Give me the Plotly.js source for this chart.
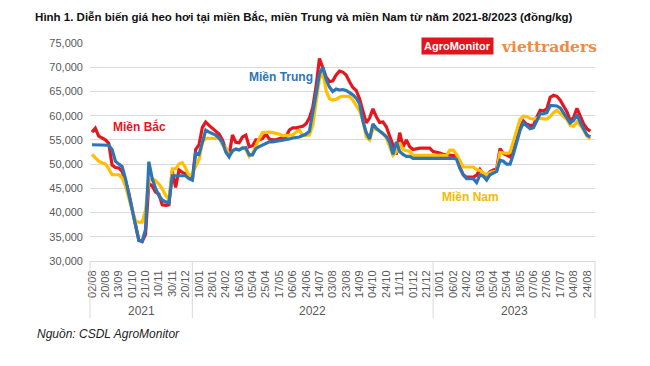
<!DOCTYPE html>
<html><head><meta charset="utf-8">
<script src="https://cdn.plot.ly/plotly-3.0.1.min.js"></script>
<style>html,body{margin:0;padding:0;background:#fff;}#chart{width:650px;height:366px;}</style>
</head><body><div id="chart"></div>
<script>
// Tick labels (one every ~14 trading days)
const tickLabels = ['02/08','20/08','13/09','01/10','21/10','10/11','30/11','20/12',
  '10/01','28/01','24/02','16/03','05/04','25/04','17/05','06/06','24/06','14/07','03/08','23/08','14/09','04/10','24/10','11/11','01/12','21/12',
  '10/01','06/02','24/02','16/03','05/04','25/04','18/05','07/06','27/06','17/07','04/08','24/08'];
const years = ['2021','2022','2023'];
const yearStart = [0, 8, 26];
const seriesNames = ['Miền Bắc','Miền Trung','Miền Nam'];

// Prices (đồng/kg), four readings per tick-label interval
const mienBac = [
 56600,57400,55800,55400, 55000,54300,49800,49300, 49200,48500,46600,44000, 41000,37500,34300,34000,
 35500,46000,45500,44200, 43800,41600,41500,41600, 48600,45200,48800,48300, 48000,47400,46800,53000,
 54000,57600,58700,58000, 57400,56800,56200,55000, 53000,51900,56000,54500, 54400,55600,56000,53600,
 53800,55000,55000,55300, 56200,55200,55000,55000, 55200,55400,55700,57000, 57500,57500,57600,57800,
 58300,59500,61700,66000, 71800,70000,68000,67000, 67200,68400,69200,69000, 68400,67000,65800,65200,
 63500,61000,58500,59500, 61400,59800,58600,58700, 57700,55800,53900,52000, 56500,53600,55000,53600,
 53000,53200,53300,53300, 53300,53300,52600,52500, 52300,52000,51900,51800, 51800,51700,49400,47800,
 47300,47300,47300,47700, 48900,47900,47700,48400, 48800,49000,53200,52200, 51800,51500,52800,55200,
 57500,58900,58200,58000, 58000,59700,61100,61000, 61400,63800,64200,64000, 63200,62000,60800,59000,
 59600,61500,59800,58300, 57300,56800];
const mienTrung = [
 54000,54000,54000,54000, 54000,53900,53000,50600, 50000,49500,47000,43600, 41000,37500,34200,34100,
 36500,50500,47000,45000, 43500,42600,42200,42000, 47600,47600,47600,47600, 47600,47000,46700,52300,
 52000,54500,57000,56600, 56300,56000,55400,54500, 52500,51500,52800,53100, 52900,53300,53400,51900,
 51900,53200,53600,53900, 54200,54600,54600,54700, 54900,54900,55100,55200, 55400,55500,55600,55900,
 56200,56800,60400,64500, 68600,70000,67500,65900, 65000,65500,65300,65400, 65200,64800,64300,63600,
 62500,58900,56500,55200, 58300,57400,56800,56400, 55700,54500,52000,54600, 52600,52000,51600,51600,
 51200,51200,51200,51200, 51200,51200,51200,51200, 51200,51200,51200,51200, 51200,51000,49100,47800,
 47000,47000,47000,46200, 47800,47500,46700,47800, 48200,48500,50800,50600, 50000,50000,52100,54500,
 57000,58500,57800,57300, 57500,59000,60400,60400, 60600,62100,62100,62000, 61600,60500,59300,58500,
 59000,60200,58600,57200, 56000,55600];
const mienNam = [
 52000,51200,50600,50300, 50000,49000,47800,47800, 47800,47200,45500,43000, 40800,38200,38000,38000,
 40500,46500,47000,46600, 45900,44900,43600,42600, 49000,49000,50000,50300, 49200,47500,48000,49600,
 51000,54500,55300,55300, 55300,55300,55300,54000, 53500,51800,52500,53200, 53000,53400,53000,51600,
 52200,53900,55300,56500, 56600,56600,56500,56400, 56200,55900,55900,56000, 56000,56600,57000,55900,
 55900,56000,58000,63000, 67500,69000,65200,63500, 63200,63400,63800,64000, 64000,64000,63200,62200,
 61000,59000,55600,55000, 57200,57200,56800,56400, 55400,53500,51800,52500, 54400,53000,52800,52600,
 51800,51800,51800,51800, 51800,51800,51800,51800, 51800,51800,51800,52900, 52900,52000,50600,49400,
 49400,49400,49400,48900, 48700,48200,47800,48200, 48400,48600,52400,52300, 52200,52400,54800,57200,
 59300,59900,59800,59400, 59300,59500,59400,59300, 59300,59800,60600,61100, 60500,59800,59200,58000,
 57800,58700,58000,57000, 55800,55200];

const STEP = 0.25;           // readings per tick interval = 1/STEP
const X0 = -0.15, X1 = 37.6; // x-axis range (tick-interval units)
const xs = arr => arr.map((_, i) => i * STEP);

const RED = '#E5161E', BLUE = '#2E75B6', YEL = '#FFC000';
const FONT = 'Liberation Sans, Arial, sans-serif';

const mk = (name, y, color) => ({
  type: 'scatter', mode: 'lines', name, x: xs(y), y,
  line: {color, width: 3.2, shape: 'linear'}, hoverinfo: 'skip'
});
const traces = [mk(seriesNames[0], mienBac, RED), mk(seriesNames[2], mienNam, YEL), mk(seriesNames[1], mienTrung, BLUE)];

const px = k => (k - X0) / (X1 - X0);  // x data -> paper
const bounds = [X0, yearStart[1] - 0.5, yearStart[2] - 0.5, X1];
const shapes = bounds.map(b => ({type: 'line', xref: 'paper', yref: 'paper', x0: px(b), x1: px(b), y0: 0, y1: -0.262,
  line: {color: '#D9D9D9', width: 1}}));
const ann = (x, y, text, font, extra) => Object.assign({xref: 'paper', yref: 'paper', x, y, text, showarrow: false,
  xanchor: 'center', yanchor: 'middle', font}, extra || {});
const annotations = years.map((yr, i) =>
  ann((px(bounds[i]) + px(bounds[i + 1])) / 2, -0.229, yr, {family: FONT, size: 12, color: '#595959'}));
annotations.push(
  ann(0.099, 0.615, '<b>' + seriesNames[0] + '</b>', {family: FONT, size: 12, color: RED}),
  ann(0.378, 0.844, '<b>' + seriesNames[1] + '</b>', {family: FONT, size: 12, color: BLUE}),
  ann(0.754, 0.294, '<b>' + seriesNames[2] + '</b>', {family: FONT, size: 12, color: '#F5BA00'}),
  ann(0.727, 0.984, '<b>AgroMonitor</b>', {family: FONT, size: 11, color: '#FFFFFF'}, {bgcolor: '#E3141C', borderpad: 2}),
  ann(0.908, 0.984, '<b>viettraders</b>', {family: 'DejaVu Serif, Liberation Serif, serif', size: 15.5, color: '#EE8A45'}),
  ann(-0.109, -0.335, '<i>Nguồn: CSDL AgroMonitor</i>', {family: FONT, size: 12, color: '#222'}, {xanchor: 'left'})
);

const layout = {
  width: 650, height: 366,
  margin: {l: 90, r: 55, t: 43, b: 105},
  paper_bgcolor: '#fff', plot_bgcolor: '#fff',
  showlegend: false,
  title: {text: '<b>Hình 1. Diễn biến giá heo hơi tại miền Bắc, miền Trung và miền Nam từ năm 2021-8/2023 (đồng/kg)</b>',
    xref: 'container', yref: 'container', x: 0.054, xanchor: 'left', y: 0.953, yanchor: 'middle',
    font: {family: FONT, size: 11.5, color: '#111'}},
  xaxis: {range: [X0, X1], tickmode: 'array', tickvals: tickLabels.map((_, i) => i), ticktext: tickLabels,
    tickangle: -90, tickfont: {family: FONT, size: 11, color: '#595959'}, showgrid: false, zeroline: false,
    showline: true, linecolor: '#D9D9D9', linewidth: 1, ticks: '', ticklabelstandoff: 4, fixedrange: true},
  yaxis: {range: [30000, 75000], dtick: 5000, tick0: 30000, tickformat: ',d', showgrid: true, gridcolor: '#D9D9D9',
    gridwidth: 1, zeroline: false, showline: false, ticks: '', ticklabelstandoff: 6,
    tickfont: {family: FONT, size: 11, color: '#595959'}, fixedrange: true},
  shapes, annotations
};
Plotly.newPlot('chart', traces, layout, {staticPlot: true, displayModeBar: false});
</script></body></html>
